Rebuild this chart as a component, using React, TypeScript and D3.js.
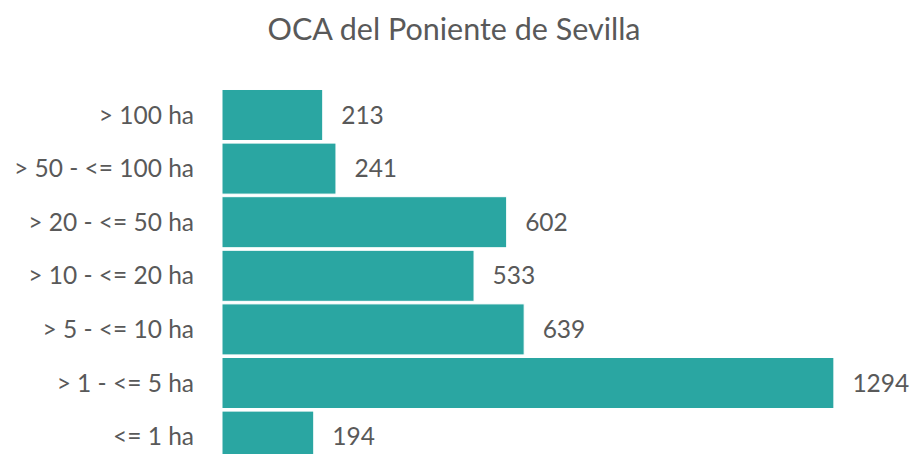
import React from "react";
import * as d3 from "d3";

const categories = [
  "> 100 ha",
  "> 50 - <= 100 ha",
  "> 20 - <= 50 ha",
  "> 10 - <= 20 ha",
  "> 5 - <= 10 ha",
  "> 1 - <= 5 ha",
  "<= 1 ha",
];
const values = [213, 241, 602, 533, 639, 1294, 194];
const title = "OCA del Poniente de Sevilla";

const W = 914;
const H = 454;
const FONT = "Lato, 'Open Sans', sans-serif";
const TEXT = "#595959";
const BAR = "#2aa6a2";

export default function App() {
  const x = d3.scaleLinear().domain([0, 1400]).range([222, 884]);
  const y = d3
    .scaleBand<string>()
    .domain(categories)
    .range([88.2, 88.2 + 7 * 53.6])
    .paddingInner(0.048)
    .paddingOuter(0.024);

  return (
    <svg
      width={W}
      height={H}
      style={{ position: "absolute", left: 0, top: 0, background: "#fff" }}
      fontFamily={FONT}
    >
      <text x={454} y={40} textAnchor="middle" fontSize={30.5} fill={TEXT}>
        {title}
      </text>
      {categories.map((c, i) => {
        const yy = y(c)!;
        const bw = y.bandwidth();
        return (
          <g key={c}>
            <rect
              x={x(0)}
              y={yy}
              width={x(values[i]) - x(0)}
              height={bw}
              fill={BAR}
              stroke="#ffffff"
              strokeWidth={1}
            />
            <text
              x={194}
              y={yy + bw / 2}
              dy="0.35em"
              textAnchor="end"
              fontSize={24.5}
              fill={TEXT}
            >
              {c}
            </text>
            <text
              x={x(values[i]) + 18.5}
              y={yy + bw / 2}
              dy="0.35em"
              fontSize={24.5}
              fill={TEXT}
            >
              {values[i]}
            </text>
          </g>
        );
      })}
    </svg>
  );
}
